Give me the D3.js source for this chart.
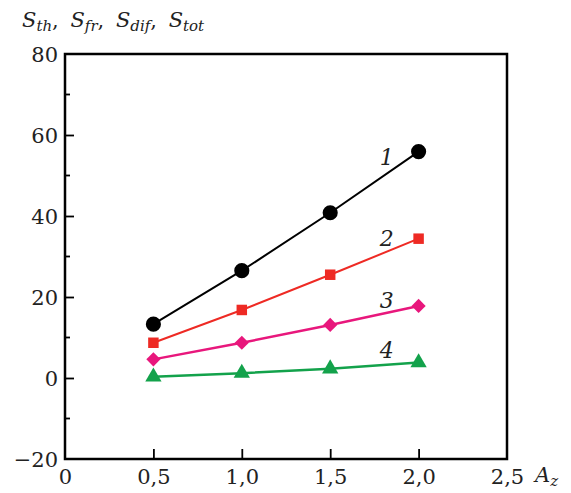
<!DOCTYPE html>
<html>
<head>
<meta charset="utf-8">
<script src="https://cdn.jsdelivr.net/npm/d3@7"></script>
<style>
  body { margin: 0; background: #fff; }
  svg text { fill: #222; }
</style>
</head>
<body>
<svg id="chart" width="571" height="493"></svg>
<script>
// data
const azValues = [0.5, 1.0, 1.5, 2.0];
const sTot = [13.3, 26.5, 40.8, 55.9];
const sFr = [8.7, 16.8, 25.5, 34.4];
const sDif = [4.6, 8.7, 13.1, 17.8];
const sTh = [0.3, 1.2, 2.3, 3.8];
const seriesLabels = ['1', '2', '3', '4'];
const xTicks = [0, 0.5, 1, 1.5, 2, 2.5];
const yTicks = [-20, 0, 20, 40, 60, 80];
const yMinor = [-10, 10, 30, 50, 70];

const margin = { top: 54, right: 64, bottom: 34, left: 65 };
const w = 571, h = 493;
const serif = 'DejaVu Serif';

const svg = d3.select('#chart');

const x = d3.scaleLinear().domain([0, 2.5]).range([margin.left, w - margin.right]);
const y = d3.scaleLinear().domain([-20, 80]).range([h - margin.bottom, margin.top]);

const fmt = d => d3.format('.1f')(d).replace('.', ',');

// frame
svg.append('rect')
   .attr('x', x(0)).attr('y', y(80))
   .attr('width', x(2.5) - x(0)).attr('height', y(-20) - y(80))
   .attr('fill', 'none').attr('stroke', '#000').attr('stroke-width', 2.5);

// x axis (ticks inward)
const xAxis = d3.axisBottom(x).tickValues(xTicks).tickSize(-10).tickPadding(9)
  .tickFormat(d => d === 0 ? '0' : fmt(d));
const gx = svg.append('g').attr('transform', `translate(0, ${y(-20)})`).call(xAxis)
  .attr('font-family', serif).attr('font-size', 21);
gx.select('.domain').remove();
gx.selectAll('line').attr('stroke', '#000').attr('stroke-width', 1.8)
  .filter(d => d === 0 || d === 2.5).remove();
gx.selectAll('text').attr('fill', '#222').attr('dy', '0.75em');

// y axis
const yAxis = d3.axisLeft(y).tickValues(yTicks).tickSize(-9).tickPadding(7)
  .tickFormat(d => d < 0 ? '\u2212' + Math.abs(d) : d);
const gy = svg.append('g').attr('transform', `translate(${x(0)}, 0)`).call(yAxis)
  .attr('font-family', serif).attr('font-size', 21);
gy.select('.domain').remove();
gy.selectAll('line').attr('stroke', '#000').attr('stroke-width', 1.8)
  .filter(d => d === -20 || d === 80).remove();
gy.selectAll('text').attr('fill', '#222').attr('dy', '0.36em');

svg.append('g').attr('transform', `translate(${x(0)}, 0)`)
   .selectAll('line').data(yMinor).enter().append('line')
   .attr('x1', 0).attr('x2', 5)
   .attr('y1', d => y(d)).attr('y2', d => y(d))
   .attr('stroke', '#000').attr('stroke-width', 1.8);

// axis titles
const yt = svg.append('text').attr('x', 22).attr('y', 27).attr('font-size', 21)
  .attr('font-family', serif).attr('font-style', 'italic');
[['S', 'th'], ['S', 'fr'], ['S', 'dif'], ['S', 'tot']].forEach((p, i) => {
  yt.append('tspan').attr('dx', i ? 5 : 0).text(p[0]);
  yt.append('tspan').attr('font-size', 15).attr('dy', 4).text(p[1]);
  yt.append('tspan').attr('dy', -4).attr('font-style', 'normal').text(i < 3 ? ', ' : '');
});

const xt = svg.append('text').attr('x', 535).attr('y', 482).attr('font-size', 21)
  .attr('font-family', serif).attr('font-style', 'italic');
xt.append('tspan').text('A');
xt.append('tspan').attr('font-size', 15).attr('dy', 4).text('z');

// series
const series = [
  { values: sTot, color: '#000000', symbol: d3.symbolCircle, size: 180, rot: 0, width: 2, label: seriesLabels[0], ly: 52.6 },
  { values: sFr, color: '#ee2a24', symbol: d3.symbolSquare, size: 110, rot: 0, width: 2, label: seriesLabels[1], ly: 32.6 },
  { values: sDif, color: '#e8177c', symbol: d3.symbolSquare, size: 100, rot: 45, width: 2.5, label: seriesLabels[2], ly: 17.3 },
  { values: sTh, color: '#13a24b', symbol: d3.symbolTriangle, size: 115, rot: 0, width: 2.5, label: seriesLabels[3], ly: 4.9 }
];

const line = d3.line().x(d => x(d[0])).y(d => y(d[1]));

series.forEach(s => {
  const pts = azValues.map((a, i) => [a, s.values[i]]);
  svg.append('path').datum(pts).attr('d', line)
     .attr('fill', 'none').attr('stroke', s.color).attr('stroke-width', s.width);
  svg.selectAll(null).data(pts).enter().append('path')
     .attr('d', d3.symbol().type(s.symbol).size(s.size))
     .attr('transform', d => `translate(${x(d[0])}, ${y(d[1])}) rotate(${s.rot})`)
     .attr('fill', s.color);
  svg.append('text').attr('x', x(1.78)).attr('y', y(s.ly))
     .attr('font-family', serif).attr('font-size', 22).attr('font-style', 'italic').text(s.label);
});
</script>
</body>
</html>
